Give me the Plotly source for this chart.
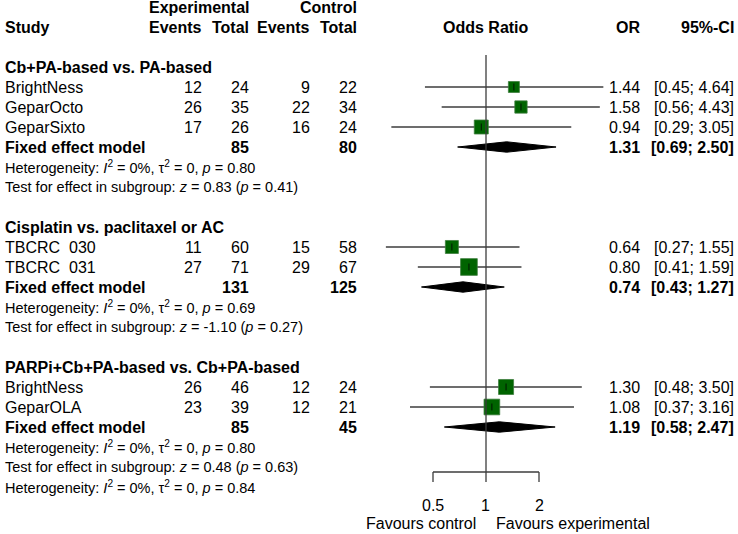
import numpy as np
import plotly.graph_objects as go

# subgroup data
groups = ["Cb+PA-based vs. PA-based",
          "Cisplatin vs. paclitaxel or AC",
          "PARPi+Cb+PA-based vs. Cb+PA-based"]
study_names = [["BrightNess", "GeparOcto", "GeparSixto"],
               ["TBCRC&nbsp;&nbsp;030", "TBCRC&nbsp;&nbsp;031"],
               ["BrightNess", "GeparOLA"]]
exp_events = [[12, 26, 17], [11, 27], [26, 23]]
exp_total = [[24, 35, 26], [60, 71], [46, 39]]
ctrl_events = [[9, 22, 16], [15, 29], [12, 12]]
ctrl_total = [[22, 34, 24], [58, 67], [24, 21]]
odds = [[1.44, 1.58, 0.94], [0.64, 0.80], [1.30, 1.08]]
ci_low = [[0.45, 0.56, 0.29], [0.27, 0.41], [0.48, 0.37]]
ci_high = [[4.64, 4.43, 3.05], [1.55, 1.59], [3.50, 3.16]]
weights = [[8.7, 10.9, 14.1], [12.2, 20.1], [16.2, 17.7]]   # % (box area)

pooled_or = [1.31, 0.74, 1.19]
pooled_low = [0.69, 0.43, 0.58]
pooled_high = [2.50, 1.27, 2.47]
pooled_exp_total = [85, 131, 85]
pooled_ctrl_total = [80, 125, 45]
het_p = ["0.80", "0.69", "0.80"]
test_z = ["0.83", "-1.10", "0.48"]
test_p = ["0.41", "0.27", "0.63"]
overall_het_p = "0.84"

ticks = [0.5, 1, 2]

FONT = "Liberation Sans, Arial, sans-serif"
W, H = 738, 534
ROW0 = 7      # pixel centre of row 0
PITCH = 20    # pixels per row
LINE = "#3c3c3c"
SMALL = 14.5

fig = go.Figure()
ann = []


def px(x):
    return x / W


def text(x, row, s, anchor="right", bold=False, size=16):
    if bold:
        s = "<b>" + s + "</b>"
    ann.append(dict(x=px(x), y=row, xref="paper", yref="y", text=s,
                    showarrow=False, xanchor=anchor, yanchor="middle",
                    font=dict(family=FONT, size=size, color="black")))


# column headers
text(251, 0, "Experimental", bold=True)
text(359, 0, "Control", bold=True)
text(3, 1, "Study", anchor="left", bold=True)
text(204, 1, "Events", bold=True)
text(251, 1, "Total", bold=True)
text(312, 1, "Events", bold=True)
text(359, 1, "Total", bold=True)
text(486, 1, "Odds Ratio", anchor="center", bold=True)
text(642, 1, "OR", bold=True)
text(736, 1, "95%-CI", bold=True)

row = 3
for g in range(len(groups)):
    text(3, row, groups[g], anchor="left", bold=True)
    row += 1
    rows = []
    for i in range(len(study_names[g])):
        text(3, row, study_names[g][i], anchor="left")
        text(204, row, str(exp_events[g][i]))
        text(251, row, str(exp_total[g][i]))
        text(312, row, str(ctrl_events[g][i]))
        text(359, row, str(ctrl_total[g][i]))
        text(642, row, f"{odds[g][i]:.2f}")
        text(736, row, f"[{ci_low[g][i]:.2f}; {ci_high[g][i]:.2f}]")
        # confidence interval line
        fig.add_trace(go.Scatter(x=[ci_low[g][i], ci_high[g][i]], y=[row, row],
                                 mode="lines", line=dict(color=LINE, width=1.3)))
        rows.append(row)
        row += 1
    # boxes sized by weight
    sizes = [3.73 * np.sqrt(w) for w in weights[g]]
    fig.add_trace(go.Scatter(x=odds[g], y=rows, mode="markers",
                             marker=dict(symbol="square", size=sizes, color="#006400",
                                         opacity=1,
                                         line=dict(color="#3f7f3f", width=0.8))))
    fig.add_trace(go.Scatter(x=odds[g], y=rows, mode="markers",
                             marker=dict(symbol="line-ns", size=5,
                                         line=dict(color="black", width=0.8))))
    # pooled estimate
    text(3, row, "Fixed effect model", anchor="left", bold=True)
    text(251, row, str(pooled_exp_total[g]), bold=True)
    text(359, row, str(pooled_ctrl_total[g]), bold=True)
    text(642, row, f"{pooled_or[g]:.2f}", bold=True)
    text(736, row, f"[{pooled_low[g]:.2f}; {pooled_high[g]:.2f}]", bold=True)
    h = 0.26
    fig.add_trace(go.Scatter(
        x=[pooled_low[g], pooled_or[g], pooled_high[g], pooled_or[g], pooled_low[g]],
        y=[row, row - h, row, row + h, row], mode="lines", fill="toself",
        fillcolor="black", line=dict(color="black", width=1)))
    row += 1
    text(3, row, "Heterogeneity: <i>I</i><sup>2</sup> = 0%, \u03c4<sup>2</sup> = 0, "
         f"<i>p</i> = {het_p[g]}", anchor="left", size=SMALL)
    row += 1
    text(3, row, f"Test for effect in subgroup: <i>z</i> = {test_z[g]} "
         f"(<i>p</i> = {test_p[g]})", anchor="left", size=SMALL)
    row += 2

row -= 1
text(3, row, "Heterogeneity: <i>I</i><sup>2</sup> = 0%, \u03c4<sup>2</sup> = 0, "
     f"<i>p</i> = {overall_het_p}", anchor="left", size=SMALL)

# reference line and x axis
axis_row = (472 - ROW0) / PITCH
tick_row = (482 - ROW0) / PITCH
fig.add_trace(go.Scatter(x=[1, 1], y=[(55 - ROW0) / PITCH, axis_row], mode="lines",
                         line=dict(color=LINE, width=1.3)))
fig.add_trace(go.Scatter(x=[ticks[0], ticks[-1]], y=[axis_row, axis_row], mode="lines",
                         line=dict(color=LINE, width=1.3)))
for t in ticks:
    fig.add_trace(go.Scatter(x=[t, t], y=[axis_row, tick_row], mode="lines",
                             line=dict(color=LINE, width=1.3)))
    ann.append(dict(x=np.log10(t), y=(505 - ROW0) / PITCH, xref="x", yref="y",
                    text=f"{t:g}", showarrow=False, xanchor="center", yanchor="middle",
                    font=dict(family=FONT, size=16, color="black")))
fav_row = (523 - ROW0) / PITCH
text(478, fav_row, "Favours control")
text(494, fav_row, "Favours experimental", anchor="left")

# log x scale: 53 px per doubling, OR = 1 at x = 486 px
x_left, x_right, x_ref, per2 = 370, 620, 486, 53.0
xrange = [(x_left - x_ref) / per2 * np.log10(2), (x_right - x_ref) / per2 * np.log10(2)]

fig.update_layout(
    width=W, height=H, autosize=False,
    margin=dict(l=0, r=0, t=0, b=0),
    plot_bgcolor="white", paper_bgcolor="white",
    showlegend=False,
    annotations=ann,
    xaxis=dict(type="log", range=xrange, domain=[x_left / W, x_right / W],
               visible=False, showgrid=False, zeroline=False),
    yaxis=dict(range=[(H - ROW0) / PITCH, -ROW0 / PITCH], domain=[0, 1],
               visible=False, showgrid=False, zeroline=False),
)
fig.update_traces(hoverinfo="skip", cliponaxis=False)

# drop the browser's default 8px body margin so the figure fills the window
fig.write_html("out.html", config={"displayModeBar": False},
               post_script="document.body.style.margin='0';"
                           "document.body.style.overflow='hidden';")
